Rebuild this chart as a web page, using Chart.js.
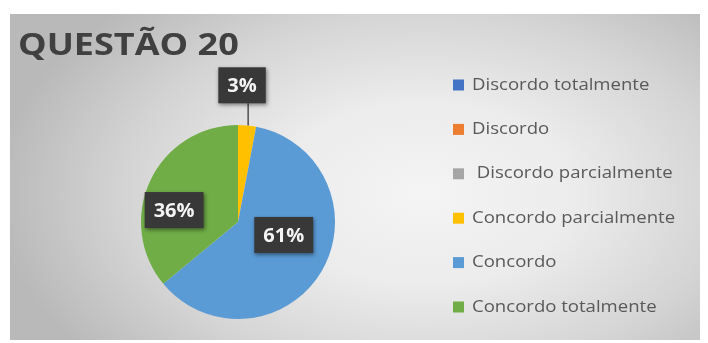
<!DOCTYPE html>
<html lang="pt">
<head>
    <meta charset="utf-8">
    <title>Questão 20</title>
    <script src="https://cdn.jsdelivr.net/npm/chart.js@4.4.1/dist/chart.umd.min.js"></script>
    <style>
        html, body { margin: 0; padding: 0; background: #ffffff; }
        #wrap { position: relative; width: 708px; height: 343px; overflow: hidden; }
        #bg {
            position: absolute; left: 10px; top: 14px; width: 690px; height: 326px;
            background: radial-gradient(ellipse 62% 80% at 60% 55%, #f4f4f4 0%, #ececec 35%, #d4d4d4 70%, #b9b9b9 100%);
        }
        canvas { position: absolute; left: 0; top: 0; }
    </style>
</head>
<body>
<div id="wrap">
    <div id="bg"></div>
    <canvas id="myChart" width="708" height="343"></canvas>
</div>
<script>

    const chartTitle = 'QUESTÃO 20';
    const categories = ['Discordo totalmente', 'Discordo', ' Discordo parcialmente', 'Concordo parcialmente', 'Concordo', 'Concordo totalmente'];
    const percentValues = [0, 0, 0, 3, 61, 36];
    const sliceColors = ['#4472C4', '#ED7D31', '#A5A5A5', '#FFC000', '#5B9BD5', '#70AD47'];

    // title, custom legend and the dark data label boxes
    const decorPlugin = {
        id: 'decor',
        afterDatasetsDraw (chart, args, opts) {
            const ctx = chart.ctx;
            const meta = chart.getDatasetMeta (0);
            const total = percentValues.reduce ((a, b) => a + b, 0);

            meta.data.forEach ((arc, i) => {
                const value = percentValues [i];
                if (!value) return;

                const p = arc.getProps (['x', 'y', 'startAngle', 'endAngle', 'outerRadius'], true);
                const mid = (p.startAngle + p.endAngle) / 2;
                const angle = mid + opts.angleShift [i] * Math.PI / 180;
                const dist = opts.radial [i] * p.outerRadius;
                const cx = p.x + Math.cos (angle) * dist;
                const cy = p.y + Math.sin (angle) * dist;
                const text = Math.round (value / total * 100) + '%';

                ctx.save ();
                ctx.font = 'bold 20px "Open Sans"';
                const w = ctx.measureText (text).width + 18;
                const h = 36;

                if (opts.radial [i] > 1) {
                    const ex = p.x + Math.cos (mid) * p.outerRadius + 1;
                    const ey = p.y + Math.sin (mid) * p.outerRadius;
                    ctx.strokeStyle = '#2b2b2b';
                    ctx.lineWidth = 1.2;
                    ctx.beginPath ();
                    ctx.moveTo (ex, ey);
                    ctx.lineTo (ex, cy + h / 2);
                    ctx.stroke ();
                }

                ctx.shadowColor = 'rgba(0, 0, 0, 0.45)';
                ctx.shadowBlur = 4;
                ctx.shadowOffsetX = 1;
                ctx.shadowOffsetY = 2;
                ctx.fillStyle = '#383838';
                ctx.fillRect (cx - w / 2, cy - h / 2, w, h);
                ctx.shadowColor = 'transparent';

                ctx.fillStyle = '#f4f4f4';
                ctx.textAlign = 'center';
                ctx.textBaseline = 'middle';
                ctx.fillText (text, cx, cy + 1);
                ctx.restore ();
            });
        },
        afterDraw (chart, args, opts) {
            const ctx = chart.ctx;

            ctx.save ();
            ctx.fillStyle = '#404040';
            ctx.font = 'bold 30px "Open Sans"';
            ctx.textBaseline = 'alphabetic';
            ctx.translate (18, 55);
            ctx.scale (opts.titleStretch, 1);
            ctx.fillText (chartTitle, 0, 0);
            ctx.restore ();

            categories.forEach ((label, i) => {
                const y = opts.legendTop + i * opts.legendStep;
                ctx.save ();
                ctx.fillStyle = sliceColors [i];
                ctx.fillRect (opts.legendLeft, y - 5.5, 11, 11);
                ctx.fillStyle = '#595959';
                ctx.font = '16px "Open Sans"';
                ctx.textBaseline = 'middle';
                ctx.translate (opts.legendLeft + 19, y);
                ctx.scale (opts.legendStretch, 1);
                ctx.fillText (label, 0, 0);
                ctx.restore ();
            });
        }
    };

    const chartContext = document.getElementById ('myChart').getContext ('2d');
    const pieChart = new Chart (chartContext, {
        type: 'pie',
        data: {
            labels: categories,
            datasets: [{
                data: percentValues,
                backgroundColor: sliceColors,
                borderWidth: 0,
                hoverOffset: 0,
                radius: 97
            }]
        },
        options: {
            responsive: false,
            animation: false,
            layout: {
                padding: { left: 21, right: 253, top: 101, bottom: 0 }
            },
            plugins: {
                legend: { display: false },
                tooltip: { enabled: false },
                decor: {
                    titleStretch: 1.2,
                    legendStretch: 1.16,
                    legendLeft: 453,
                    legendTop: 85,
                    legendStep: 44.4,
                    angleShift: [0, 0, 0, -3.7, -14.8, -14.6],
                    radial: [0, 0, 0, 1.41, 0.49, 0.67]
                }
            }
        },
        plugins: [decorPlugin]
    });

</script>
</body>
</html>
